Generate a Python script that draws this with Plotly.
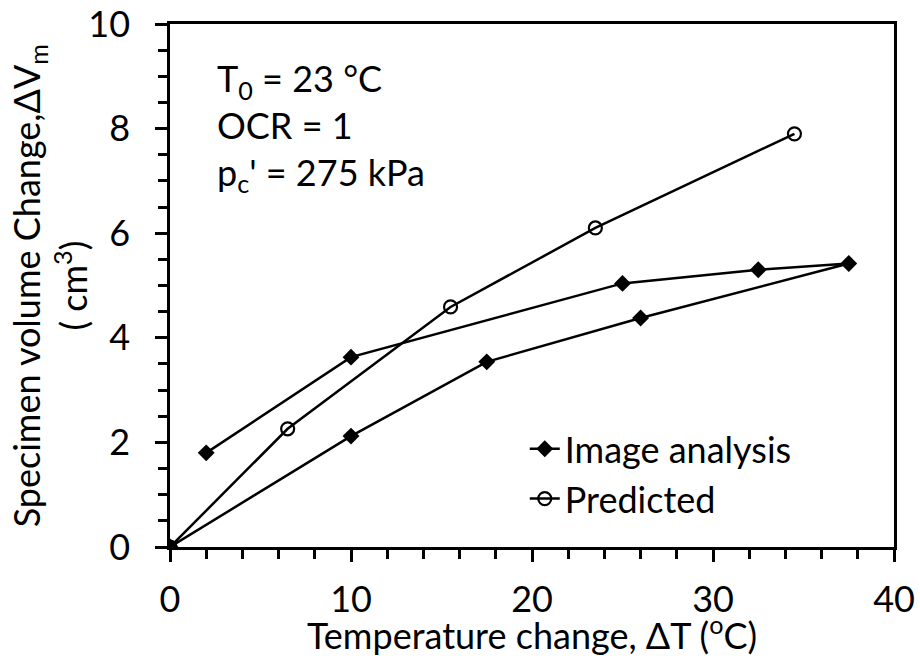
import plotly.graph_objects as go

# Measured volume change during heating (0 -> 37.5) and cooling back (-> 2)
image_dT = [0, 10, 17.5, 26, 37.5, 32.5, 25, 10, 2]
image_dV = [0, 2.12, 3.54, 4.38, 5.42, 5.30, 5.04, 3.63, 1.80]

# Model prediction
pred_dT = [0, 6.5, 15.5, 23.5, 34.5]
pred_dV = [0, 2.26, 4.59, 6.10, 7.90]

x_ticks = [0, 10, 20, 30, 40]
y_ticks = [0, 2, 4, 6, 8, 10]

x_title = "Temperature change, ΔT (<sup>o</sup>C)"
y_title = "Specimen volume Change,ΔV<sub>m</sub><br>( cm<sup>3</sup>)"
conditions = "T<sub>0</sub> = 23 °C<br>OCR = 1<br>p<sub>c</sub>' = 275 kPa"

FONT = "Lato"
FS = 36
BLACK = "#000000"
text_font = dict(family=FONT, size=FS, color=BLACK)

fig = go.Figure()
fig.add_trace(go.Scatter(
    x=image_dT, y=image_dV, mode="lines+markers", name="Image analysis",
    line=dict(color=BLACK, width=2.5),
    marker=dict(symbol="diamond", size=13, color=BLACK),
))
fig.add_trace(go.Scatter(
    x=pred_dT, y=pred_dV, mode="lines+markers", name="Predicted",
    line=dict(color=BLACK, width=2.5),
    marker=dict(symbol="circle-open", size=13, color=BLACK, line=dict(width=2.2)),
))

axis_common = dict(
    showline=True, linecolor=BLACK, linewidth=2.5, mirror=True,
    showgrid=False, zeroline=False, automargin=False,
    ticks="outside", ticklen=12, tickwidth=2.5, tickcolor=BLACK,
    tickfont=text_font,
)

fig.update_xaxes(
    range=[0, 40], tickvals=x_ticks, ticklabelstandoff=7,
    minor=dict(dtick=2, ticks="outside", ticklen=9, tickwidth=2.5, tickcolor=BLACK),
    **axis_common,
)
fig.update_yaxes(
    range=[0, 10], tickvals=y_ticks, ticklabelstandoff=18,
    minor=dict(dtick=0.5, ticks="outside", ticklen=9, tickwidth=2.5, tickcolor=BLACK),
    **axis_common,
)

# Axis titles
fig.add_annotation(
    xref="paper", yref="paper", x=0.5, y=-0.165, xanchor="center", yanchor="middle",
    showarrow=False, text=x_title, font=text_font,
)
fig.add_annotation(
    xref="paper", yref="paper", x=-0.166, y=0.5, xanchor="center", yanchor="middle",
    showarrow=False, textangle=-90, text=y_title, font=text_font,
)

# Test conditions
fig.add_annotation(
    xref="paper", yref="paper", x=0.062, y=0.943, xanchor="left", yanchor="top",
    align="left", showarrow=False, text=conditions, font=text_font,
)

fig.update_layout(
    width=920, height=656,
    margin=dict(l=170, r=26, t=24, b=109),
    plot_bgcolor="white", paper_bgcolor="white",
    showlegend=True,
    legend=dict(
        x=0.49, y=0.245, xanchor="left", yanchor="top",
        bgcolor="rgba(0,0,0,0)", borderwidth=0,
        font=text_font, itemwidth=30, tracegroupgap=0,
    ),
)

fig.write_html("out.html")
